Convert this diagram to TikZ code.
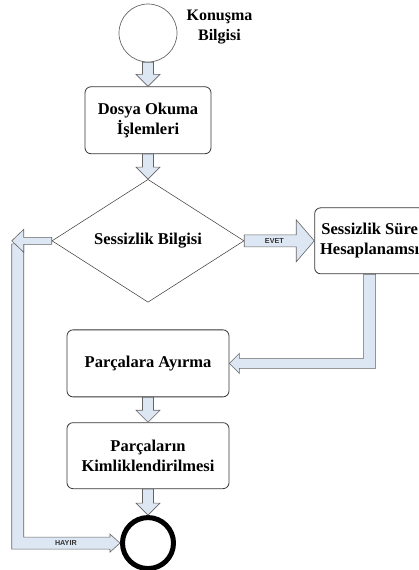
\documentclass[tikz,border=0pt]{standalone}
\usepackage{fontspec}
\setmainfont{Liberation Serif}
\newfontfamily\smallsans{Liberation Sans}
\usetikzlibrary{shapes.geometric, positioning, calc}
\definecolor{arrowfill}{RGB}{221,230,243}
\definecolor{arrowline}{RGB}{100,100,100}
\definecolor{boxline}{RGB}{55,55,55}
\tikzset{
    block/.style={rectangle, draw=boxline, line width=0.8pt, rounded corners=6pt, fill=white, align=center, inner sep=0pt, font=\bfseries\fontsize{16.5}{20}\selectfont},
    decision/.style={diamond, draw=boxline, line width=0.5pt, fill=white, inner sep=0pt, minimum width=192pt, minimum height=120pt, font=\bfseries\fontsize{16.5}{20}\selectfont},
    startnode/.style={circle, draw=arrowline, line width=0.7pt, minimum size=58pt, inner sep=0pt},
    endnode/.style={circle, draw=black, line width=5pt, minimum size=51pt, inner sep=0pt},
    blockarrow/.style={draw=arrowline, fill=arrowfill, line width=0.6pt},
    arrowtext/.style={inner sep=0pt, text=black!80, font=\smallsans\bfseries\fontsize{7.2}{8}\selectfont},
    blockdown/.style={to path={
        ($(\tikztostart)+(-5.5,0)$) -- ($(\tikztotarget)+(-5.5,12)$) -- ($(\tikztotarget)+(-12,12)$) -- (\tikztotarget)
        -- ($(\tikztotarget)+(12,12)$) -- ($(\tikztotarget)+(5.5,12)$) -- ($(\tikztostart)+(5.5,0)$) -- cycle}},
    blockleft/.style={to path={
        ($(\tikztostart)+(0,3.5)$) -- ($(\tikztotarget)+(12,3.5)$) -- ($(\tikztotarget)+(12,11.5)$) -- (\tikztotarget)
        -- ($(\tikztotarget)+(12,-11.5)$) -- ($(\tikztotarget)+(12,-3.5)$) -- ($(\tikztostart)+(0,-3.5)$) -- cycle}},
    blockright/.style={to path={
        ($(\tikztostart)+(0,6)$) -- ($(\tikztotarget)+(-18,6)$) -- ($(\tikztotarget)+(-18,21)$) -- (\tikztotarget)
        -- ($(\tikztotarget)+(-18,-21)$) -- ($(\tikztotarget)+(-18,-6)$) -- ($(\tikztostart)+(0,-6)$) -- cycle}}
}

\begin{document}
\begin{tikzpicture}[x=1pt, y=1pt]
\path[use as bounding box, clip] (0,0) rectangle (419,-570);

% Start and input
\node[startnode] (start) at (148,-33) {};
\node[inner sep=0pt, align=center, font=\bfseries\fontsize{16}{20}\selectfont] (input) [right=9pt of start, yshift=6pt] {Konuşma\\Bilgisi};

% Steps
\node[block, minimum width=126pt, minimum height=67pt] (read) [below=24pt of start] {Dosya Okuma\\İşlemleri};
\node[decision] (silence) [below=25pt of read] {Sessizlik Bilgisi};
\node[block, minimum width=110pt, minimum height=66pt] (duration) [right=70pt of silence] {Sessizlik Süre\\Hesaplanamsı};
\node[block, minimum width=162pt, minimum height=67pt] (split) [below=27pt of silence] {Parçalara Ayırma};
\node[block, minimum width=162pt, minimum height=66pt] (identify) [below=25pt of split] {Parçaların\\Kimliklendirilmesi};
\node[endnode] (stop) [below=26pt of identify] {};
\coordinate (corner) at ($(silence.west)+(-40,0)$);

% Down arrows
\draw[blockarrow] (start.south) to[blockdown] (read.north);
\draw[blockarrow] (read.south) to[blockdown] (silence.north);
\draw[blockarrow] (split.south) to[blockdown] (identify.north);
\draw[blockarrow] (identify.south) to[blockdown] (stop.north);

% EVET branch
\draw[blockarrow] (silence.east) to[blockright] (duration.west);
\node[arrowtext] (yes) at ($(silence.east)!0.43!(duration.west)$) {EVET};
\draw[blockarrow] ($(duration.south)+(-6,0)$) |- ($(split.east)+(10,5)$) -- ($(split.east)+(10,10)$) -- (split.east)
    -- ($(split.east)+(10,-10)$) -- ($(split.east)+(10,-5)$) -| ($(duration.south)+(6,0)$) -- cycle;

% HAYIR branch
\draw[blockarrow] ($(corner)+(0,-3)$) |- ($(stop.west)+(-10,-6)$) -- ($(stop.west)+(-10,-9)$) -- (stop.west)
    -- ($(stop.west)+(-10,9)$) -- ($(stop.west)+(-10,6)$) -| ($(corner)+(12,-3)$) -- cycle;
\draw[blockarrow] (silence.west) to[blockleft] (corner);
\node[arrowtext] (no) at ($(corner |- stop.west)!0.5!(stop.west)$) {HAYIR};

\end{tikzpicture}
\end{document}
